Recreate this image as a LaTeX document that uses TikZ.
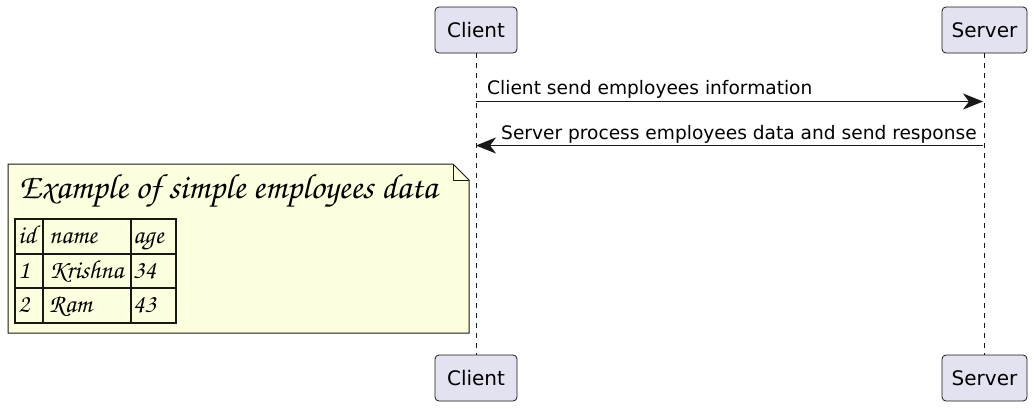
\documentclass[tikz,border=0pt]{standalone}
\usepackage{fontspec}
\setmainfont{DejaVu Sans}
\usetikzlibrary{arrows.meta}

\definecolor{partfill}{HTML}{E2E2F0}
\definecolor{linegray}{HTML}{181818}
\definecolor{notefill}{HTML}{FEFFDD}
\newcommand{\handfont}{\fontencoding{OT1}\fontfamily{pzc}\fontseries{m}\fontshape{it}\selectfont}

\tikzset{
	participant/.style={draw=linegray, fill=partfill, rounded corners=4pt, line width=0.8pt,
		minimum width=82pt, minimum height=46pt, inner sep=0pt, font=\fontsize{20}{22}\selectfont},
	lifeline/.style={linegray, line width=0.7pt, dash pattern=on 5pt off 5pt},
	message/.style={linegray, line width=1pt, -{Stealth[length=20pt, width=16pt, inset=6pt]}},
	msgtext/.style={anchor=base west, inner sep=0pt, font=\fontsize{18.6}{21}\selectfont},
	cell/.style={anchor=base west, inner sep=0pt, font=\handfont\fontsize{26}{28}\selectfont}
}

\begin{document}
\begin{tikzpicture}[x=1pt, y=-1pt]
	\useasboundingbox (0, 0) rectangle (1034, 408);
	% participants
	\node[participant] (clientTop) at (476, 30) {Client};
	\node[participant, minimum width=85pt] (serverTop) at (984.5, 30) {Server};
	\node[participant] (clientBot) at (476, 378) {Client};
	\node[participant, minimum width=85pt] (serverBot) at (984.5, 378) {Server};
	\draw[lifeline] (clientTop) -- (clientBot);
	\draw[lifeline] (serverTop.south) -- (serverBot.north);

	% messages
	\coordinate (reqFrom) at (476, 101.5);
	\coordinate (reqTo) at (983, 101.5);
	\coordinate (respFrom) at (983, 145.5);
	\coordinate (respTo) at (476, 145.5);
	\draw[message] (reqFrom) -- (reqTo);
	\node[msgtext] (reqText) at (487, 94) {Client send employees information};
	\draw[message] (respFrom) -- (respTo);
	\node[msgtext] (respText) at (501, 139.5) {Server process employees data and send response};

	% note with table
	\draw[linegray, fill=notefill, line width=1pt] (8, 164) -- (453, 164) -- (469, 180) -- (469, 333) -- (8, 333) -- cycle;
	\draw[linegray, line width=1pt] (453, 164) -- (453, 180) -- (469, 180);
	\node[anchor=base west, inner sep=0pt, font=\handfont\fontsize{35}{38}\selectfont] (noteTitle) at (19, 198) {Example of simple employees data};
	\draw[linegray, line width=1.2pt] (15, 219) rectangle (176, 323);
	\draw[linegray, line width=1.2pt] (15, 254) -- (176, 254);
	\draw[linegray, line width=1.2pt] (15, 288) -- (176, 288);
	\draw[linegray, line width=1.2pt] (43, 219) -- (43, 323);
	\draw[linegray, line width=1.2pt] (131, 219) -- (131, 323);
	\node[cell] (hId) at (18, 243) {id};
	\node[cell] (hName) at (49, 243) {name};
	\node[cell] (hAge) at (133, 243) {age};
	\node[cell] (rowOneId) at (18, 278) {1};
	\node[cell] (rowOneName) at (49, 278) {Krishna};
	\node[cell] (rowOneAge) at (133, 278) {34};
	\node[cell] (rowTwoId) at (18, 312) {2};
	\node[cell] (rowTwoName) at (49, 312) {Ram};
	\node[cell] (rowTwoAge) at (133, 312) {43};
\end{tikzpicture}
\end{document}
